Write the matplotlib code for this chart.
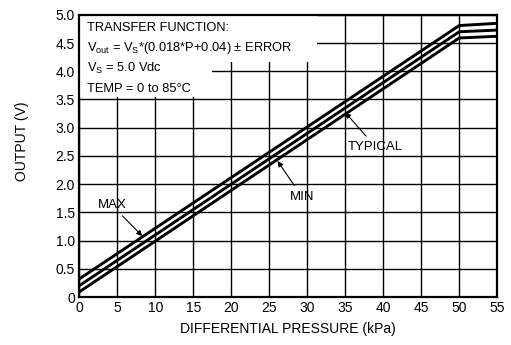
import matplotlib.pyplot as plt
from matplotlib.patches import Rectangle
import numpy as np

# transfer curves (kPa -> V)
pressure = [0, 50, 55]
out_max = [0.32, 4.81, 4.85]
out_typ = [0.20, 4.70, 4.73]
out_min = [0.09, 4.59, 4.62]

x_ticks = [0, 5, 10, 15, 20, 25, 30, 35, 40, 45, 50, 55]
y_ticks = [0, 0.5, 1.0, 1.5, 2.0, 2.5, 3.0, 3.5, 4.0, 4.5, 5.0]
y_labels = ['0', '0.5', '1.0', '1.5', '2.0', '2.5', '3.0', '3.5', '4.0', '4.5', '5.0']

plt.rcParams['font.family'] = ['Liberation Sans', 'DejaVu Sans']
plt.rcParams['mathtext.fontset'] = 'custom'
plt.rcParams['mathtext.rm'] = 'Liberation Sans'
plt.rcParams['mathtext.it'] = 'Liberation Sans'

fig = plt.figure(figsize=(5.11, 3.45), dpi=100)
ax = fig.add_axes([0.155, 0.139, 0.818, 0.818])

for ys in (out_max, out_typ, out_min):
    ax.plot(pressure, ys, color='black', lw=2.1, zorder=4, solid_capstyle='butt')

ax.set_xlim(0, 55)
ax.set_ylim(0, 5)
ax.set_xticks(x_ticks)
ax.set_yticks(y_ticks)
ax.set_yticklabels(y_labels)
ax.tick_params(length=0, labelsize=10, pad=3)
ax.grid(True, color='black', lw=1.0)
ax.set_axisbelow(True)
for s in ax.spines.values():
    s.set_linewidth(1.6)

# white area behind the transfer function notes
ax.add_patch(Rectangle((0, 4.17), 31.3, 0.83, facecolor='white', edgecolor='none', zorder=2))
ax.add_patch(Rectangle((0, 3.55), 17.5, 0.65, facecolor='white', edgecolor='none', zorder=2))

notes = ['TRANSFER FUNCTION:',
         r'V$_{\mathrm{out}}$ = V$_{\mathrm{S}}$*(0.018*P+0.04) $\pm$ ERROR',
         r'V$_{\mathrm{S}}$ = 5.0 Vdc',
         'TEMP = 0 to 85\u00b0C']
for i, t in enumerate(notes):
    ax.text(1.0, 4.77 - i * 0.36, t, fontsize=9.3, va='center', ha='left', zorder=5)

arrow = dict(arrowstyle='-|>', color='black', lw=0.8, mutation_scale=8,
             shrinkA=2, shrinkB=0)
ax.annotate('MAX', xy=(8.3, 1.08), xytext=(4.3, 1.63), fontsize=9.5,
            ha='center', va='center', arrowprops=arrow, zorder=5)
ax.annotate('MIN', xy=(26.1, 2.41), xytext=(29.3, 1.78), fontsize=9.5,
            ha='center', va='center', arrowprops=arrow, zorder=5)
ax.annotate('TYPICAL', xy=(35.0, 3.27), xytext=(39.0, 2.66), fontsize=9.5,
            ha='center', va='center', arrowprops=arrow, zorder=5)

ax.set_xlabel('DIFFERENTIAL PRESSURE (kPa)', fontsize=10, labelpad=5)
ax.set_ylabel('OUTPUT (V)', fontsize=10)
ax.yaxis.set_label_coords(-0.12, 0.553)

fig.savefig('out.png', dpi=100)
